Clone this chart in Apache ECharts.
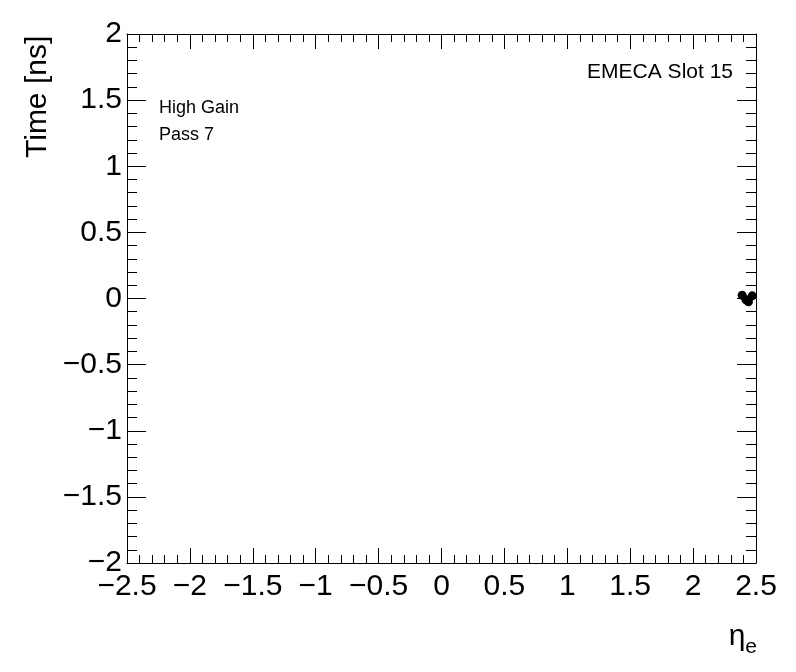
<!DOCTYPE html>
<html>
<head>
<meta charset="utf-8">
<script src="https://cdn.jsdelivr.net/npm/echarts@6/dist/echarts.min.js"></script>
<style>html,body{margin:0;padding:0;background:#fff;}#c{width:796px;height:672px;}</style>
</head>
<body>
<div id="c"></div>
<script>
const etaValues = [2.39, 2.42, 2.44, 2.47];
const timeValues = [0.025, -0.01, -0.025, 0.02];
const xRange = [-2.5, 2.5];
const yRange = [-2, 2];
const yTitle = 'Time [ns]';
const textLines = ['High Gain', 'Pass 7'];
const slotLabel = 'EMECA Slot 15';

const fmt = v => {
  let s = (Math.round(v * 10) / 10).toString();
  return s.replace('-', '\u2212');
};
const FONT = 'Liberation Sans, Arial, Helvetica, sans-serif';
const chart = echarts.init(document.getElementById('c'), null, {renderer: 'canvas'});
const baseAxis = {
  axisLine: {show: true, onZero: false, lineStyle: {color: '#000', width: 1}},
  splitLine: {show: false},
  minorSplitLine: {show: false}
};
chart.setOption({
  animation: false,
  backgroundColor: '#fff',
  grid: {left: 127, right: 40, top: 34, bottom: 109, containLabel: false, outerBoundsMode: 'none'},
  xAxis: [
    Object.assign({}, baseAxis, {
      type: 'value', min: xRange[0], max: xRange[1], interval: 0.5, position: 'bottom',
      axisTick: {show: true, inside: true, length: 15, lineStyle: {color: '#000'}},
      minorTick: {show: true, splitNumber: 5, length: 8, lineStyle: {color: '#000'}},
      axisLabel: {show: true, formatter: fmt, color: '#000', fontSize: 30, fontFamily: FONT, margin: 9, showMinLabel: true, showMaxLabel: true}
    }),
    Object.assign({}, baseAxis, {
      type: 'value', min: xRange[0], max: xRange[1], interval: 0.5, position: 'top',
      axisTick: {show: true, inside: true, length: 15, lineStyle: {color: '#000'}},
      minorTick: {show: true, splitNumber: 5, length: 8, lineStyle: {color: '#000'}},
      axisLabel: {show: false}
    })
  ],
  yAxis: [
    Object.assign({}, baseAxis, {
      type: 'value', min: yRange[0], max: yRange[1], interval: 0.5, position: 'left',
      axisTick: {show: true, inside: true, length: 19, lineStyle: {color: '#000'}},
      minorTick: {show: true, splitNumber: 5, length: 10, lineStyle: {color: '#000'}},
      axisLabel: {show: true, formatter: fmt, color: '#000', fontSize: 30, fontFamily: FONT, margin: 5}
    }),
    Object.assign({}, baseAxis, {
      type: 'value', min: yRange[0], max: yRange[1], interval: 0.5, position: 'right',
      axisTick: {show: true, inside: true, length: 19, lineStyle: {color: '#000'}},
      minorTick: {show: true, splitNumber: 5, length: 10, lineStyle: {color: '#000'}},
      axisLabel: {show: false}
    })
  ],
  graphic: [
    {type: 'text', x: 38, y: 158, rotation: Math.PI / 2,
     style: {text: yTitle, fontSize: 30, fontFamily: FONT, fill: '#000', align: 'left', verticalAlign: 'middle'}},
    {type: 'text', x: 757, y: 615,
     style: {text: '{eta|\u03b7}{sub|e}', align: 'right', verticalAlign: 'top',
       rich: {
         eta: {fontSize: 30, fontFamily: FONT, fill: '#000'},
         sub: {fontSize: 21, fontFamily: FONT, fill: '#000', padding: [22, 0, 0, 0]}
       }}},
    {type: 'text', left: 159, top: 99, style: {text: textLines[0], fontSize: 18, fontFamily: FONT, fill: '#000'}},
    {type: 'text', left: 159, top: 126, style: {text: textLines[1], fontSize: 18, fontFamily: FONT, fill: '#000'}},
    {type: 'text', right: 63, top: 62, style: {text: slotLabel, fontSize: 21, fontFamily: FONT, fill: '#000'}}
  ],
  series: [{
    type: 'scatter',
    xAxisIndex: 0, yAxisIndex: 0,
    symbol: 'circle', symbolSize: 9,
    itemStyle: {color: '#000', opacity: 1},
    data: etaValues.map((x, i) => [x, timeValues[i]]),
    clip: false
  }]
});
</script>
</body>
</html>
